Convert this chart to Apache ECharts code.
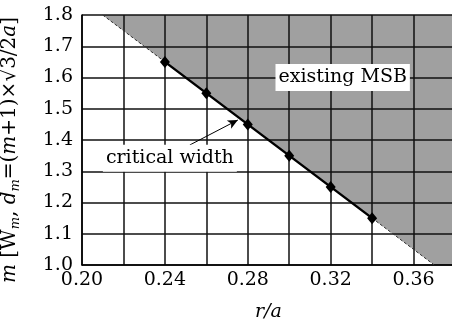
<!DOCTYPE html>
<html>
<head>
<meta charset="utf-8">
<script src="https://cdn.jsdelivr.net/npm/echarts@6/dist/echarts.min.js"></script>
<style>
  html, body { margin: 0; padding: 0; background: #fff; }
  #chart { width: 452px; height: 322px; }
</style>
</head>
<body>
<div id="chart"></div>
<script>
// critical width points (r/a, m)
var critX = [0.24, 0.26, 0.28, 0.30, 0.32, 0.34];
var critY = [1.65, 1.55, 1.45, 1.35, 1.25, 1.15];
// dashed extension of the boundary
var extLowX = [0.21, 0.24];
var extLowY = [1.80, 1.65];
var extHighX = [0.34, 0.37];
var extHighY = [1.15, 1.00];
// shaded region boundary (filled up to the top of the axis)
var msbX = [0.21, 0.37, 0.38];
var msbY = [1.80, 1.00, 1.00];
// annotations
var noteMsb = [0.3258, 1.60];
var noteCrit = [0.2424, 1.342];
var arrowFrom = [0.252, 1.384];
var arrowTo = [0.2752, 1.464];

function pairs(xs, ys) {
    var out = [];
    for (var i = 0; i < xs.length; i++) out.push([xs[i], ys[i]]);
    return out;
}

var FONT = 'DejaVu Serif';
var chart = echarts.init(document.getElementById('chart'));

var option = {
    animation: false,
    backgroundColor: '#fff',
    grid: { left: 82, top: 15, right: -3, bottom: 57, containLabel: false, outerBoundsMode: 'none' },
    xAxis: {
        type: 'value',
        min: 0.20, max: 0.38, interval: 0.02,
        z: 1,
        name: 'r/a',
        nameLocation: 'middle',
        nameGap: 38,
        nameTextStyle: { fontFamily: FONT, fontSize: 19, fontStyle: 'italic', color: '#000' },
        axisLine: { lineStyle: { color: '#000', width: 1.5 } },
        axisTick: { show: false },
        splitLine: { show: true, lineStyle: { color: '#111', width: 1.5 } },
        axisLabel: {
            fontFamily: FONT, fontSize: 19, color: '#000', margin: 6,
            formatter: function (v) {
                var k = Math.round((v - 0.20) / 0.02);
                return (k % 2 === 0 && k < 9) ? v.toFixed(2) : '';
            }
        }
    },
    yAxis: {
        type: 'value',
        min: 1.0, max: 1.8, interval: 0.1,
        z: 1,
        name: '{i|m} [W{s|m}, {i|d}{s|m}=({i|m}+1)×√3/2{i|a}]',
        nameLocation: 'middle',
        nameGap: 60,
        nameTextStyle: {
            fontFamily: FONT, fontSize: 20, color: '#000', lineHeight: 24,
            padding: [0, 20, 0, 0],
            rich: {
                i: { fontFamily: FONT, fontSize: 20, fontStyle: 'italic', color: '#000', lineHeight: 24 },
                s: { fontFamily: FONT, fontSize: 13, fontStyle: 'italic', color: '#000', lineHeight: 24, verticalAlign: 'bottom', padding: [7, 0, 0, 0] }
            }
        },
        axisLine: { lineStyle: { color: '#000', width: 1.5 } },
        axisTick: { show: false },
        splitLine: { show: true, lineStyle: { color: '#111', width: 1.5 } },
        axisLabel: {
            fontFamily: FONT, fontSize: 19, color: '#000', margin: 9,
            formatter: function (v) { return v.toFixed(1); }
        }
    },
    series: [
        {
            type: 'line',
            z: 0,
            data: pairs(msbX, msbY),
            symbol: 'none',
            lineStyle: { width: 0 },
            areaStyle: { origin: 'end', color: '#a0a0a0', opacity: 1 },
            silent: true
        },
        {
            type: 'line',
            z: 3,
            data: pairs(extLowX, extLowY),
            symbol: 'none',
            lineStyle: { color: '#333', width: 1, type: [3, 2] }
        },
        {
            type: 'line',
            z: 3,
            data: pairs(extHighX, extHighY),
            symbol: 'none',
            lineStyle: { color: '#333', width: 1, type: [3, 2] }
        },
        {
            type: 'line',
            z: 4,
            data: pairs(critX, critY),
            symbol: 'diamond',
            symbolSize: [10, 12],
            itemStyle: { color: '#000' },
            lineStyle: { color: '#000', width: 2.5 }
        },
        {
            type: 'scatter',
            z: 10,
            symbolSize: 0,
            itemStyle: { opacity: 1 },
            data: [
                { value: noteMsb, label: { formatter: 'existing MSB' } },
                { value: noteCrit, label: { formatter: 'critical width' } }
            ],
            label: {
                show: true, position: 'inside',
                fontFamily: FONT, fontSize: 19, color: '#000',
                backgroundColor: '#fff', padding: [4, 3, 4, 3]
            },
            markLine: {
                silent: true,
                symbol: ['none', 'arrow'],
                symbolSize: [7, 10],
                label: { show: false },
                lineStyle: { color: '#000', width: 1, type: 'solid' },
                data: [[{ coord: arrowFrom }, { coord: arrowTo }]]
            }
        }
    ]
};
chart.setOption(option);
</script>
</body>
</html>
